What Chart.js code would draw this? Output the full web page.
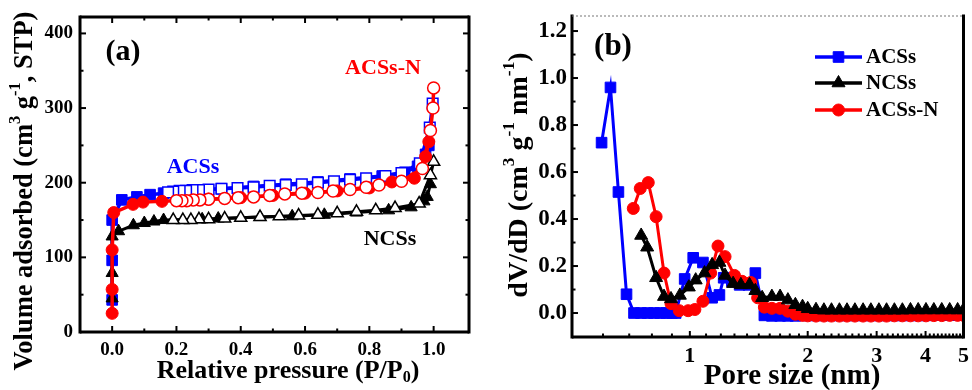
<!DOCTYPE HTML>
<html lang="en">
<head>
<meta charset="UTF-8">
<title>Isotherms and pore size distribution</title>
<style>
    body { margin: 0; background: #fff; }
    .panel { position: absolute; top: 0; }
    #pa { left: 0; }
    #pb { left: 480px; }
</style>
</head>
<body>
<div class="panel" id="pa"><canvas id="chartA" width="480" height="390"></canvas></div>
<div class="panel" id="pb"><canvas id="chartB" width="492" height="390"></canvas></div>

<script src="https://cdn.jsdelivr.net/npm/chart.js"></script>
<script>
// ---- panel (a): N2 isotherms, filled = adsorption, open = desorption
const adsP_ACSs = [0.0, 0.0, 0.0, 0.03, 0.077, 0.118, 0.16, 0.24, 0.34, 0.44, 0.54, 0.64, 0.74, 0.84, 0.91, 0.95, 0.975, 0.985];
const adsV_ACSs = [43, 96, 150, 177, 181, 184, 186, 189, 192, 195, 198, 201, 205, 209, 214, 222, 238, 250];
const desP_ACSs = [0.997, 0.988, 0.957, 0.9, 0.85, 0.79, 0.74, 0.69, 0.64, 0.59, 0.54, 0.49, 0.44, 0.39, 0.34, 0.3, 0.27, 0.25, 0.23, 0.21, 0.19, 0.174];
const desV_ACSs = [306, 274, 226, 213, 209, 206, 204, 202, 200, 198, 197, 196, 194, 193, 192, 191, 190, 190, 189, 189, 188, 187];

const adsP_NCSs = [0.0, 0.0, 0.0, 0.02, 0.066, 0.1, 0.13, 0.16, 0.28, 0.33, 0.46, 0.56, 0.66, 0.76, 0.86, 0.93, 0.97, 0.98, 0.99];
const adsV_NCSs = [45, 79, 128, 135, 143, 146, 148, 150, 151, 152, 154, 155, 157, 160, 163, 167, 175, 181, 198];
const desP_NCSs = [1.0, 0.99, 0.955, 0.88, 0.82, 0.76, 0.7, 0.64, 0.58, 0.52, 0.46, 0.4, 0.35, 0.3, 0.27, 0.245, 0.22, 0.19];
const desV_NCSs = [228, 210, 172, 166, 163, 161, 159, 157, 156, 155, 154, 153, 152, 151, 151, 150, 150, 150];

const adsP_N = [0.0, 0.0, 0.0, 0.005, 0.065, 0.096, 0.155, 0.3, 0.4, 0.5, 0.6, 0.7, 0.8, 0.87, 0.94, 0.975, 0.985];
const adsV_N = [25, 57, 110, 160, 171, 174, 175, 178, 180, 183, 186, 189, 193, 201, 206, 235, 255];
const desP_N = [1.0, 0.998, 0.99, 0.965, 0.9, 0.83, 0.79, 0.74, 0.687, 0.64, 0.59, 0.537, 0.49, 0.44, 0.392, 0.35, 0.3, 0.273, 0.252, 0.232, 0.217, 0.2];
const desV_N = [327, 300, 270, 219, 202, 197, 194, 191, 189, 187, 186, 185, 183, 181, 180, 179, 178, 177, 177, 176, 176, 176];

const xTicksA = [0, 0.2, 0.4, 0.6, 0.8, 1.0];
const yTicksA = [0, 100, 200, 300, 400];

// ---- panel (b): pore size distribution (log x)
const tailPore = [1.62, 1.7, 1.78, 1.86, 1.94, 2.0, 2.1, 2.2, 2.3, 2.41, 2.52, 2.64, 2.77, 2.9, 3.04, 3.18, 3.33, 3.49, 3.66, 3.83, 4.01, 4.2, 4.4, 4.61, 4.83, 5.0];

const poreACSs = [0.595, 0.627, 0.657, 0.689, 0.72, 0.75, 0.78, 0.81, 0.84, 0.87, 0.9, 0.92, 0.97, 1.02, 1.08, 1.14, 1.19, 1.22, 1.28, 1.34, 1.41, 1.47, 1.55];
const dvACSs = [0.725, 0.96, 0.515, 0.08, 0, 0, 0, 0, 0, 0, 0, 0, 0.145, 0.235, 0.215, 0.065, 0.077, 0.15, 0.135, 0.12, 0.12, 0.17, -0.01];
const tailACSs = [-0.012, -0.012, -0.012, -0.012, -0.01, -0.01, -0.01, -0.01, -0.01, -0.01, -0.01, -0.01, -0.01, -0.01, -0.01, -0.01, -0.01, -0.01, -0.01, -0.01, -0.01, -0.009, -0.009, -0.009, -0.008, -0.008];

const poreNCSs = [0.751, 0.778, 0.82, 0.859, 0.895, 0.943, 0.994, 1.035, 1.09, 1.14, 1.19, 1.23, 1.29, 1.35, 1.42, 1.47, 1.53];
const dvNCSs = [0.33, 0.28, 0.15, 0.07, 0.06, 0.075, 0.11, 0.14, 0.17, 0.205, 0.215, 0.16, 0.125, 0.12, 0.12, 0.095, 0.065];
const tailNCSs = [0.07, 0.07, 0.055, 0.035, 0.027, 0.018, 0.014, 0.012, 0.012, 0.012, 0.012, 0.012, 0.012, 0.012, 0.012, 0.012, 0.012, 0.012, 0.013, 0.013, 0.013, 0.013, 0.013, 0.013, 0.013, 0.013];

const poreN = [0.717, 0.747, 0.783, 0.82, 0.859, 0.895, 0.94, 0.99, 1.03, 1.08, 1.13, 1.18, 1.23, 1.3, 1.36, 1.43, 1.49, 1.55];
const dvN = [0.445, 0.53, 0.555, 0.41, 0.17, 0.04, 0.01, 0.01, 0.015, 0.05, 0.17, 0.285, 0.24, 0.16, 0.135, 0.13, 0.065, 0.025];
const tailN = [0.02, 0.02, 0.008, -0.005, -0.01, -0.012, -0.013, -0.013, -0.013, -0.013, -0.013, -0.013, -0.013, -0.013, -0.013, -0.013, -0.012, -0.012, -0.012, -0.012, -0.012, -0.011, -0.011, -0.01, -0.01, -0.01];

const xLabelsB = [1, 2, 3, 4, 5];
const xMinorB = [0.6, 0.7, 0.8, 0.9, 1.1, 1.2, 1.3, 1.4, 1.5, 1.6, 1.7, 1.8, 1.9, 2.1, 2.2, 2.3, 2.4, 2.5, 2.6, 2.7, 2.8, 2.9,
                 3.1, 3.2, 3.3, 3.4, 3.5, 3.6, 3.7, 3.8, 3.9, 4.1, 4.2, 4.3, 4.4, 4.5, 4.6, 4.7, 4.8, 4.9];
const yTicksB = [0, 0.2, 0.4, 0.6, 0.8, 1.0, 1.2];

const BLUE = '#0000ff', RED = '#ff0000', BLACK = '#000000';
const SERIF = '"Liberation Serif", "Times New Roman", serif';

Chart.defaults.font.family = SERIF;
Chart.defaults.font.weight = 'bold';
Chart.defaults.color = '#000';

function pts(xs, ys) {
    return xs.map((x, i) => ({ x: x, y: ys[i] }));
}

function series(xs, ys, color, style, radius, open, lw, order) {
    return {
        data: pts(xs, ys),
        showLine: true,
        borderColor: color,
        borderWidth: lw,
        pointStyle: style,
        pointRadius: radius,
        pointBorderWidth: open ? 1.5 : 1,
        pointBackgroundColor: open ? '#fff' : color,
        pointBorderColor: color,
        order: order
    };
}

// text with super/subscripts, centred on (cx, cy)
function drawRich(ctx, parts, cx, cy, size, angle, color) {
    const f = s => 'bold ' + s + 'px ' + SERIF;
    ctx.save();
    ctx.translate(cx, cy);
    ctx.rotate(angle);
    ctx.fillStyle = color;
    ctx.textBaseline = 'middle';
    ctx.textAlign = 'left';
    let w = 0;
    parts.forEach(p => { ctx.font = f(p.s ? size * 0.62 : size); w += ctx.measureText(p.t).width; });
    let x = -w / 2;
    parts.forEach(p => {
        const s = p.s ? size * 0.62 : size;
        ctx.font = f(s);
        const dy = p.s === 'sup' ? -size * 0.36 : (p.s === 'sub' ? size * 0.26 : 0);
        ctx.fillText(p.t, x, dy);
        x += ctx.measureText(p.t).width;
    });
    ctx.restore();
}

// box, inward ticks, labels and legend
const frame = {
    id: 'frame',
    afterDraw(chart, args, o) {
        const ctx = chart.ctx, a = chart.chartArea;
        const sx = chart.scales.x, sy = chart.scales.y;
        ctx.save();
        ctx.strokeStyle = '#000';
        ctx.lineWidth = 2;
        const line = (x1, y1, x2, y2) => { ctx.beginPath(); ctx.moveTo(x1, y1); ctx.lineTo(x2, y2); ctx.stroke(); };
        const xt = (vals, len) => vals.forEach(v => {
            const px = sx.getPixelForValue(v);
            line(px, a.bottom, px, a.bottom - len);
            if (o.mirror) line(px, a.top, px, a.top + len);
        });
        const yt = (vals, len) => vals.forEach(v => {
            const py = sy.getPixelForValue(v);
            line(a.left, py, a.left + len, py);
            if (o.mirror) line(a.right, py, a.right - len, py);
        });
        xt(o.xMajor, 6); xt(o.xMinor, 3.5);
        yt(o.yMajor, 6); yt(o.yMinor, 3.5);

        ctx.lineWidth = 3;
        line(a.left, a.top - 1.5, a.left, a.bottom + 1.5);
        line(a.left, a.bottom, a.right, a.bottom);
        line(a.right, a.top - 1.5, a.right, a.bottom + 1.5);
        if (o.topThin) {
            ctx.lineWidth = 1;
            ctx.strokeStyle = '#777';
            ctx.setLineDash([2, 2]);
            line(a.left, a.top, a.right, a.top);
            ctx.setLineDash([]);
        } else {
            line(a.left, a.top, a.right, a.top);
        }

        o.texts.forEach(t => drawRich(ctx, t.parts, t.x, t.y, t.size, t.angle || 0, t.color || '#000'));

        if (o.legend) {
            o.legend.forEach((item, i) => {
                const ds = chart.data.datasets[item.ds];
                const y = o.legendY[i];
                ctx.strokeStyle = ds.borderColor;
                ctx.lineWidth = 3.5;
                line(o.legendX[0], y, o.legendX[1], y);
                ctx.fillStyle = ds.pointBackgroundColor;
                ctx.lineWidth = 1;
                Chart.helpers.drawPoint(ctx, { pointStyle: ds.pointStyle, radius: ds.pointRadius, rotation: 0, borderWidth: 1 },
                    (o.legendX[0] + o.legendX[1]) / 2, y);
                ctx.font = 'bold 21px ' + SERIF;
                ctx.fillStyle = '#000';
                ctx.textBaseline = 'middle';
                ctx.textAlign = 'left';
                ctx.fillText(item.label, o.legendX[1] + 4, y + 1);
            });
        }
        ctx.restore();
    }
};

function fixedScale(sizeKey, size) {
    return s => {
        s[sizeKey] = size;
        s.paddingLeft = 0; s.paddingRight = 0; s.paddingTop = 0; s.paddingBottom = 0;
    };
}

// ---------------- chart (a)
new Chart(document.getElementById('chartA'), {
    type: 'scatter',
    data: {
        datasets: [
            series(desP_N, desV_N, RED, 'circle', 6, true, 3.5, 0),
            series(adsP_N, adsV_N, RED, 'circle', 6, false, 3.5, 1),
            series(desP_NCSs, desV_NCSs, BLACK, 'triangle', 7, true, 3, 2),
            series(adsP_NCSs, adsV_NCSs, BLACK, 'triangle', 7, false, 3, 3),
            series(desP_ACSs, desV_ACSs, BLUE, 'rect', 7.5, true, 3.5, 4),
            series(adsP_ACSs, adsV_ACSs, BLUE, 'rect', 7.5, false, 3.5, 5)
        ]
    },
    options: {
        responsive: false,
        animation: false,
        events: [],
        layout: { padding: { top: 17, right: 11, left: 0, bottom: 0 } },
        scales: {
            x: {
                type: 'linear', min: -0.1, max: 1.11,
                grid: { display: false, drawTicks: false }, border: { display: false },
                afterBuildTicks: s => { s.ticks = xTicksA.map(v => ({ value: v })); },
                afterFit: fixedScale('height', 58),
                ticks: { padding: 7, autoSkip: false, maxRotation: 0, font: { size: 19, weight: 'bold' }, callback: v => v.toFixed(1) }
            },
            y: {
                type: 'linear', min: 0, max: 422,
                grid: { display: false, drawTicks: false }, border: { display: false },
                afterBuildTicks: s => { s.ticks = yTicksA.map(v => ({ value: v })); },
                afterFit: fixedScale('width', 80),
                ticks: { padding: 7, autoSkip: false, font: { size: 19, weight: 'bold' }, callback: v => String(v) }
            }
        },
        plugins: {
            legend: { display: false },
            tooltip: { enabled: false },
            frame: {
                mirror: true,
                xMajor: xTicksA, xMinor: [0.1, 0.3, 0.5, 0.7, 0.9],
                yMajor: yTicksA, yMinor: [50, 150, 250, 350],
                texts: [
                    { parts: [{ t: '(a)' }], x: 123, y: 52, size: 30 },
                    { parts: [{ t: 'ACSs' }], x: 193, y: 167, size: 22, color: BLUE },
                    { parts: [{ t: 'ACSs-N' }], x: 383, y: 68, size: 22, color: RED },
                    { parts: [{ t: 'NCSs' }], x: 390, y: 239, size: 22 },
                    { parts: [{ t: 'Volume adsorbed (cm' }, { t: '3', s: 'sup' }, { t: ' g' }, { t: '-1', s: 'sup' }, { t: ', STP)' }],
                      x: 25, y: 191, size: 26.5, angle: -Math.PI / 2 },
                    { parts: [{ t: 'Relative pressure (P/P' }, { t: '0', s: 'sub' }, { t: ')' }], x: 288, y: 371, size: 26 }
                ]
            }
        }
    },
    plugins: [frame]
});

// ---------------- chart (b)
new Chart(document.getElementById('chartB'), {
    type: 'scatter',
    data: {
        datasets: [
            series(poreACSs.concat(tailPore), dvACSs.concat(tailACSs), BLUE, 'rect', 7.5, false, 3, 2),
            series(poreNCSs.concat(tailPore), dvNCSs.concat(tailNCSs), BLACK, 'triangle', 7.5, false, 3, 0),
            series(poreN.concat(tailPore), dvN.concat(tailN), RED, 'circle', 6, false, 3, 1)
        ]
    },
    options: {
        responsive: false,
        animation: false,
        events: [],
        layout: { padding: { top: 16, right: 2, left: 0, bottom: 0 } },
        scales: {
            x: {
                type: 'logarithmic', min: 0.5, max: 5.0,
                grid: { display: false, drawTicks: false }, border: { display: false },
                afterBuildTicks: s => { s.ticks = xLabelsB.map(v => ({ value: v })); },
                afterFit: fixedScale('height', 53),
                ticks: { padding: 6, autoSkip: false, maxRotation: 0, font: { size: 22, weight: 'bold' }, callback: v => String(v) }
            },
            y: {
                type: 'linear', min: -0.102, max: 1.264,
                grid: { display: false, drawTicks: false }, border: { display: false },
                afterBuildTicks: s => { s.ticks = yTicksB.map(v => ({ value: v })); },
                afterFit: fixedScale('width', 92),
                ticks: { padding: 5, autoSkip: false, font: { size: 23, weight: 'bold' }, callback: v => v.toFixed(1) }
            }
        },
        plugins: {
            legend: { display: false },
            tooltip: { enabled: false },
            frame: {
                mirror: false, topThin: true,
                xMajor: xLabelsB, xMinor: xMinorB,
                yMajor: yTicksB, yMinor: [0.1, 0.3, 0.5, 0.7, 0.9, 1.1],
                legend: [{ ds: 0, label: 'ACSs' }, { ds: 1, label: 'NCSs' }, { ds: 2, label: 'ACSs-N' }],
                legendX: [335, 382],
                legendY: [57, 83, 110],
                texts: [
                    { parts: [{ t: '(b)' }], x: 133, y: 47, size: 31 },
                    { parts: [{ t: 'dV/dD (cm' }, { t: '3', s: 'sup' }, { t: ' g' }, { t: '-1', s: 'sup' }, { t: ' nm' }, { t: '-1', s: 'sup' }, { t: ')' }],
                      x: 40, y: 175, size: 28, angle: -Math.PI / 2 },
                    { parts: [{ t: 'Pore size (nm)' }], x: 312, y: 377, size: 29 }
                ]
            }
        }
    },
    plugins: [frame]
});
</script>
</body>
</html>
